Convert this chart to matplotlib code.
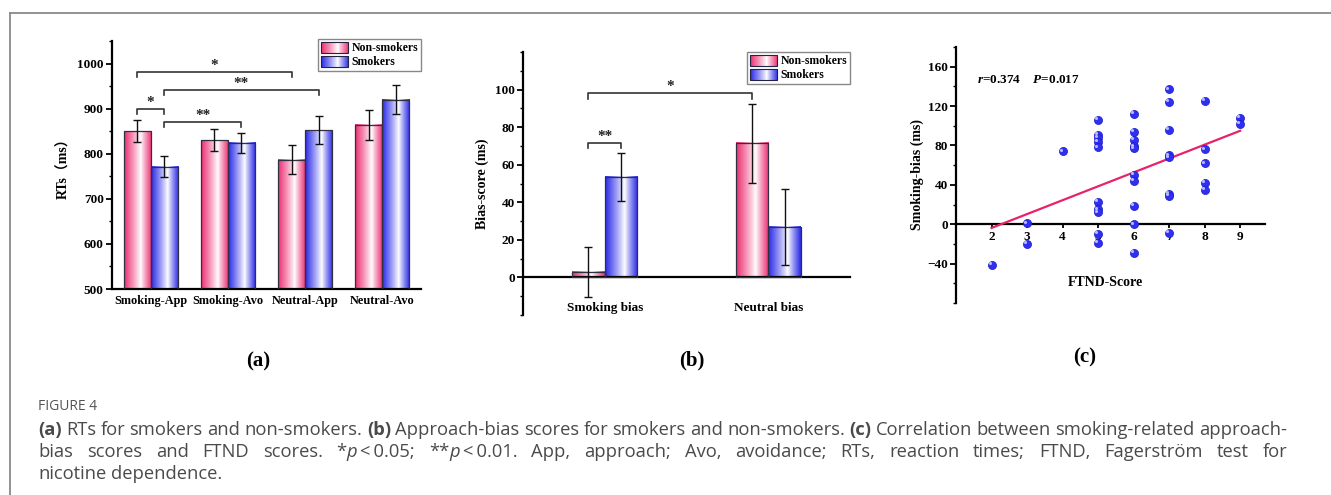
import numpy as np
import matplotlib
matplotlib.use('Agg')
import matplotlib.pyplot as plt
from matplotlib.legend_handler import HandlerBase
from matplotlib.image import BboxImage
from matplotlib.transforms import Bbox, TransformedBbox, ScaledTranslation
from matplotlib.patches import Rectangle
from matplotlib.lines import Line2D
from matplotlib.ticker import MultipleLocator

# ---- (a) reaction times ----
conditions = ['Smoking-App', 'Smoking-Avo', 'Neutral-App', 'Neutral-Avo']
rt_nonsmokers = [850, 830, 787, 864]
rt_nonsmokers_err = [24, 24, 32, 34]
rt_smokers = [771, 824, 852, 920]
rt_smokers_err = [23, 23, 31, 33]
# (group, series) -> (group, series), bracket height, label
rt_sig = [((0, 0), (2, 0), 981, '*'),
          ((0, 1), (2, 1), 942, '**'),
          ((0, 0), (0, 1), 900, '*'),
          ((0, 1), (1, 1), 870, '**')]

# ---- (b) bias scores ----
bias_groups = ['Smoking bias', 'Neutral bias']
bias_nonsmokers = [3.0, 71.5]
bias_nonsmokers_err = [13.3, 21.0]
bias_smokers = [53.7, 26.7]
bias_smokers_err = [12.8, 20.2]
bias_sig = [((0, 0), (1, 0), 98, '*'),
            ((0, 0), (0, 1), 71.6, '**')]

# ---- (c) correlation ----
ftnd = [2, 3, 3, 4,
        5, 5, 5, 5, 5, 5, 5, 5, 5, 5,
        6, 6, 6, 6, 6, 6, 6, 6, 6, 6,
        7, 7, 7, 7, 7, 7, 7, 7,
        8, 8, 8, 8, 8,
        9, 9]
smoking_bias = [-41, 1, -20, 74,
                106, 91, 88, 84, 78, 23, 15, 12, -10, -19,
                112, 94, 86, 79, 77, 50, 44, 19, 0, -29,
                137, 124, 96, 70, 68, 31, 29, -9,
                125, 76, 62, 42, 35,
                108, 102]
fit_slope = 14.1
fit_intercept = -32.0
fit_range = [2, 9]

PINK = '#ec2f72'
BLUE = '#2a2ae8'
SERIF = ['Liberation Serif', 'Noto Sans CJK SC', 'DejaVu Sans']
plt.rcParams['font.family'] = SERIF
plt.rcParams['font.weight'] = 'bold'
plt.rcParams['axes.labelweight'] = 'bold'
plt.rcParams['axes.linewidth'] = 1.6
plt.rcParams['mathtext.fontset'] = 'custom'
plt.rcParams['mathtext.rm'] = 'Liberation Serif:bold'
plt.rcParams['mathtext.it'] = 'Liberation Serif:italic:bold'
plt.rcParams['mathtext.bf'] = 'Liberation Serif:bold'
plt.rcParams['mathtext.bfit'] = 'Liberation Serif:italic:bold'


def gradient_image(base):
    t = np.linspace(0, 1, 64)
    w = np.where(t < 0.6, (0.6 - t) / 0.6, (t - 0.6) / 0.4) ** 0.9
    c = np.array(matplotlib.colors.to_rgb(base))
    rgb = (1 - w[:, None]) * 1.0 + w[:, None] * c[None, :]
    return rgb[None, :, :]


class GradientHandler(HandlerBase):
    def __init__(self, color):
        super().__init__()
        self.color = color

    def create_artists(self, legend, orig_handle, xdescent, ydescent,
                       width, height, fontsize, trans):
        bb = TransformedBbox(Bbox.from_bounds(-xdescent, -ydescent, width, height), trans)
        img = BboxImage(bb, interpolation='bilinear')
        img.set_data(gradient_image(self.color))
        rect = Rectangle((-xdescent, -ydescent), width, height, fill=False,
                         edgecolor='#222244', lw=0.8, transform=trans)
        return [img, rect]


def gradient_bars(ax, x, vals, errs, width, color):
    bars = ax.bar(x, vals, width, facecolor='none', edgecolor='#303040', lw=0.9, zorder=3)
    for p in bars:
        x0, y0 = p.get_x(), p.get_y()
        ax.imshow(gradient_image(color), extent=(x0, x0 + p.get_width(), y0, y0 + p.get_height()),
                  aspect='auto', interpolation='bilinear', zorder=2, clip_path=p, clip_on=True)
    ax.errorbar(x, vals, yerr=errs, fmt='none', ecolor='#111111', elinewidth=1.0,
                capsize=3.2, capthick=1.0, zorder=4)
    return bars


def brackets(ax, xpos, sig, leg):
    for (a, b, h, lab) in sig:
        xa, xb = xpos[a[1]][a[0]], xpos[b[1]][b[0]]
        ax.plot([xa, xa, xb, xb], [h - leg, h, h, h - leg], color='#333333', lw=1.2, zorder=5)
        ax.text((xa + xb) / 2, h, lab, ha='center', va='bottom', fontsize=11,
                fontweight='bold', color='#222222')


def add_legend(ax, anchor):
    h1 = Rectangle((0, 0), 1, 1)
    h2 = Rectangle((0, 0), 1, 1)
    leg = ax.legend([h1, h2], ['Non-smokers', 'Smokers'], loc='upper right',
                    bbox_to_anchor=anchor, fontsize=8.5, frameon=True, fancybox=False,
                    edgecolor='#888888', framealpha=1, borderpad=0.25, handlelength=2.3,
                    handleheight=1.0, labelspacing=0.15, handletextpad=0.3, borderaxespad=0,
                    handler_map={h1: GradientHandler(PINK), h2: GradientHandler(BLUE)})
    leg.get_frame().set_linewidth(1.0)
    leg.set_zorder(10)


def style_y(ax):
    ax.tick_params(axis='y', direction='out', length=4, width=1.3, labelsize=9.5, pad=2)
    ax.tick_params(axis='y', which='minor', direction='out', length=2.5, width=1.0)
    ax.spines['top'].set_visible(False)
    ax.spines['right'].set_visible(False)


W, H = 1331, 495
fig = plt.figure(figsize=(W / 100, H / 100), dpi=100)


def fax(l, t, r, b):
    return fig.add_axes([l / W, 1 - b / H, (r - l) / W, (b - t) / H])


# ---------------- panel (a) ----------------
ax = fax(112, 41, 421, 289)
xg = np.arange(len(conditions))
bw = 0.35
xa = [xg - bw / 2, xg + bw / 2]
gradient_bars(ax, xa[0], rt_nonsmokers, rt_nonsmokers_err, bw, PINK)
gradient_bars(ax, xa[1], rt_smokers, rt_smokers_err, bw, BLUE)
ax.set_xlim(-0.5, 3.5)
ax.set_ylim(500, 1050)
ax.set_xticks(xg)
ax.set_xticklabels(conditions, fontsize=8.8)
ax.tick_params(axis='x', length=0, pad=4)
ax.set_yticks([500, 600, 700, 800, 900, 1000])
ax.yaxis.set_minor_locator(MultipleLocator(50))
style_y(ax)
ax.set_ylabel('RTs（ms）', fontsize=10, labelpad=5)
brackets(ax, xa, rt_sig, 11)
add_legend(ax, (1.0, 1.008))

# ---------------- panel (b) ----------------
ax = fax(523, 52, 850, 315)
xg = np.arange(len(bias_groups))
bw = 0.2
xb = [xg - bw / 2, xg + bw / 2]
gradient_bars(ax, xb[0], bias_nonsmokers, bias_nonsmokers_err, bw, PINK)
gradient_bars(ax, xb[1], bias_smokers, bias_smokers_err, bw, BLUE)
ax.set_xlim(-0.5, 1.5)
ax.set_ylim(-20, 120)
ax.spines['bottom'].set_position(('data', 0))
ax.set_xticks([])
for g, lab in zip(xg, bias_groups):
    ax.text(g, -16.5, lab, ha='center', va='center', fontsize=9.5)
ax.set_yticks([0, 20, 40, 60, 80, 100])
ax.yaxis.set_minor_locator(MultipleLocator(10))
style_y(ax)
ax.set_ylabel('Bias-score (ms)', fontsize=10, labelpad=4)
brackets(ax, xb, bias_sig, 2.8)
add_legend(ax, (1.0, 1.0))

# ---------------- panel (c) ----------------
ax = fax(956, 47, 1265, 303)
ax.set_xlim(1, 9.7)
ax.set_ylim(-80, 180)
ax.spines['bottom'].set_position(('data', 0))
ax.set_xticks(range(2, 10))
ax.tick_params(axis='x', direction='out', length=3, width=1.3, labelsize=9.5, pad=2)
ax.set_yticks([-40, 0, 40, 80, 120, 160])
ax.yaxis.set_minor_locator(MultipleLocator(20))
style_y(ax)
ax.set_ylabel('Smoking-bias (ms)', fontsize=10, labelpad=2)
fx = np.array(fit_range, dtype=float)
ax.plot(fx, fit_slope * fx + fit_intercept, color='#e8226a', lw=1.6, zorder=3)
ax.scatter(ftnd, smoking_bias, s=34, color='#2f2ff2', edgecolor='#1c1cc8', lw=0.5, zorder=4)
hl = ax.transData + ScaledTranslation(-1.2 / 72, 1.2 / 72, fig.dpi_scale_trans)
ax.scatter(ftnd, smoking_bias, s=5, color='#b8b8ff', lw=0, zorder=5, transform=hl)
ax.text(1.6, 146, r'$\mathit{r}$=0.374    $\mathit{P}$=0.017', fontsize=9.5, va='center')
ax.text(5.2, -59, 'FTND-Score', ha='center', va='center', fontsize=10)

# panel letters
for lab, px, py in [('(a)', 258, 361), ('(b)', 692, 360), ('(c)', 1085, 357)]:
    fig.text(px / W, 1 - py / H, lab, ha='center', va='center', fontsize=15)

# outer frame
fig.add_artist(Line2D([10 / W, 10 / W], [0, 1 - 13 / H], color='#8a8a8a', lw=1.3))
fig.add_artist(Line2D([10 / W, 1], [1 - 13 / H, 1 - 13 / H], color='#8a8a8a', lw=1.3))

# ---------------- caption ----------------
CAP = dict(family=['Open Sans', 'DejaVu Sans'], color='#4a4a4a', fontsize=13.2,
           fontweight='normal', va='baseline')
fig.text(38 / W, 1 - 410 / H, 'FIGURE 4', **{**CAP, 'fontsize': 10, 'color': '#555555'})

N = {}
B = {'fontweight': 'bold'}
I = {'style': 'italic'}
line1 = [[('(a)', B)], 'RTs for smokers and non-smokers.', [('(b)', B)],
         'Approach-bias scores for smokers and non-smokers.', [('(c)', B)],
         'Correlation between smoking-related approach-']
line2 = ['bias scores and FTND scores.', [('*', N), ('p', I), ('\u2009<\u20090.05;', N)],
         [('**', N), ('p', I), ('\u2009<\u20090.01.', N)],
         'App, approach; Avo, avoidance; RTs, reaction times; FTND, Fagerström test for']
line3 = ['nicotine dependence.']


def to_words(items):
    words = []
    for it in items:
        if isinstance(it, str):
            words += [[(w, N)] for w in it.split(' ')]
        else:
            words.append(it)
    return words


renderer = fig.canvas.get_renderer()


def text_width(s, props):
    t = fig.text(0, 0, s, **{**CAP, **props})
    w = t.get_window_extent(renderer).width
    t.remove()
    return w


space_w = text_width('a a', N) - text_width('aa', N)


def put_line(items, py, justify, x0=38, x1=1287):
    words = to_words(items)
    widths = [sum(text_width(s, p) for s, p in wd) for wd in words]
    gap = (x1 - x0 - sum(widths)) / (len(words) - 1) if justify else space_w
    x = x0
    for wd, ww in zip(words, widths):
        xx = x
        for s, p in wd:
            fig.text(xx / W, 1 - py / H, s, **{**CAP, **p})
            xx += text_width(s, p)
        x += ww + gap


put_line(line1, 435, True)
put_line(line2, 457, True)
put_line(line3, 479, False)

fig.savefig('out.png', dpi=100)
